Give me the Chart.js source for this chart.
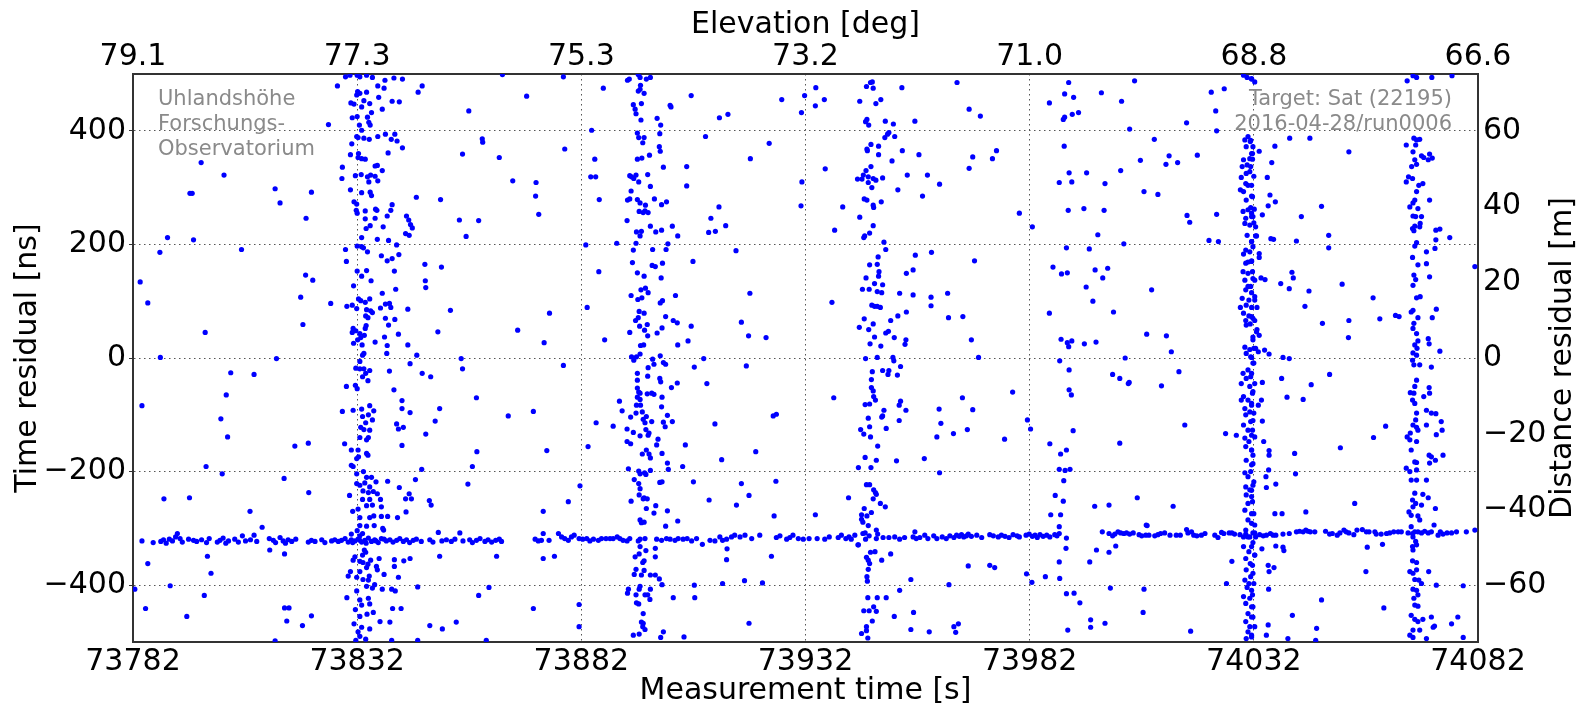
<!DOCTYPE html>
<html>
<head>
<meta charset="utf-8">
<title>Time residuals</title>
<script src="https://cdn.jsdelivr.net/npm/chart.js@4.4.1/dist/chart.umd.min.js"></script>
<style>
  html, body { margin: 0; padding: 0; background: #fff; }
  #wrap { width: 1579px; height: 707px; }
</style>
</head>
<body>
<div id="wrap"><canvas id="residualChart" width="1579" height="707"></canvas></div>
<script>
// [measurement time (s), time residual (ns)]

// range-gate returns, three gate settings
const gateA = [
  [73784.0,-322],[73786.5,-325],[73788.2,-323],[73788.8,-320],[73789.4,-326],[73790.1,-319],[73790.8,-322],[73791.5,-315],[73791.9,-309],
  [73792.5,-318],[73793.0,-324],[73794.4,-319],[73795.5,-321],[73796.2,-323],[73797.3,-320],[73798.4,-325],[73799.0,-318],
  [73800.8,-324],[73801.4,-321],[73802.1,-317],[73802.7,-326],[73803.3,-322],[73804.7,-319],[73805.5,-324],[73806.4,-313],
  [73807.1,-322],[73808.2,-320],[73809.0,-312],[73809.6,-323],[73812.4,-318],[73813.3,-321],[73813.8,-325],[73814.8,-316],
  [73815.5,-322],[73816.0,-326],[73816.6,-320],[73817.4,-323],[73818.3,-319],[73821.1,-324],[73821.8,-321],[73822.6,-323],
  [73824.1,-320],[73824.8,-325],[73826.3,-322],[73827.0,-320],[73827.8,-323],[73828.5,-321],[73829.3,-318],[73830.0,-324],
  [73830.7,-320],[73831.0,-325],[73831.5,-322],[73832.2,-319],[73832.6,-321],[73833.0,-324],[73833.7,-321],[73834.0,-326],
  [73834.5,-317],[73835.2,-323],[73835.9,-320],[73836.2,-322],[73836.7,-325],[73837.4,-318],[73838.0,-319],[73838.5,-322],
  [73839.3,-320],[73840.0,-324],[73840.8,-321],[73841.5,-318],[73842.3,-323],[73843.0,-320],[73843.7,-325],[73844.5,-321],
  [73845.2,-319],[73846.3,-323],[73848.2,-320],[73848.9,-324],[73850.1,-307],[73850.9,-322],[73851.9,-320],[73853.0,-323],
  [73853.8,-319],[73854.9,-308],[73855.6,-322],[73857.1,-320],[73857.7,-325],[73858.6,-321],[73859.4,-318],[73860.5,-323],
  [73861.2,-320],[73862.0,-324],[73862.9,-321],[73863.7,-319],[73864.2,-323]
];

const gateB = [
  [73871.7,-319],[73872.4,-322],[73873.1,-321],[73873.5,-309],[73874.8,-321],[73876.9,-309],[73877.6,-315],[73878.3,-318],
  [73879.1,-321],[73879.8,-315],[73880.4,-312],[73881.5,-318],[73882.3,-319],[73883.2,-318],[73883.9,-322],[73884.7,-319],
  [73885.8,-321],[73886.5,-318],[73887.5,-318],[73888.4,-318],[73889.1,-318],[73890.0,-315],[73890.6,-318],[73891.3,-321],
  [73892.2,-322],[73892.8,-318],[73894.7,-322],[73895.1,-319],[73896.2,-318],[73898.8,-319],[73899.9,-321],[73901.0,-318],
  [73901.8,-319],[73902.9,-321],[73903.6,-318],[73904.7,-319],[73905.6,-318],[73906.6,-322],[73907.7,-318],[73909.0,-328],
  [73910.7,-321],[73911.8,-322],[73912.9,-315],[73913.5,-321],[73914.4,-319],[73915.5,-315],[73916.2,-312],[73917.4,-315],
  [73918.5,-312],[73920.0,-318],[73921.8,-312],[73925.5,-316],[73926.3,-313],[73927.8,-319],[73928.5,-316],[73929.2,-312],
  [73930.4,-318],[73931.5,-319],[73932.8,-318],[73934.6,-318],[73936.3,-319],[73937.3,-315],[73939.3,-316],[73940.0,-312],
  [73941.0,-318],[73941.7,-315],[73942.2,-319],[73943.0,-312],[73943.7,-329],[73944.8,-309],[73945.4,-319],[73946.2,-313],
  [73947.8,-318],[73949.3,-316],[73950.6,-316],[73951.9,-315],[73953.0,-319],[73954.1,-316],[73956.0,-315],[73956.4,-306],
  [73956.7,-318],[73957.5,-316],[73958.6,-312],[73959.3,-318],[73960.6,-313],[73961.3,-318],[73962.5,-315],[73963.4,-318],
  [73964.2,-313],[73965.1,-316],[73965.7,-312],[73966.3,-314],[73966.8,-311],[73967.3,-315],[73967.9,-313],[73968.3,-310],
  [73969.0,-314],[73970.2,-312],[73971.3,-316],[73973.1,-311],[73973.9,-313],[73975.0,-315],[73975.7,-312],[73976.5,-314],
  [73977.4,-316],[73978.3,-311],[73979.2,-313],[73979.7,-315],[73981.2,-312],[73981.9,-310],[73982.6,-314],[73983.2,-312],
  [73983.7,-316],[73984.3,-311],[73985.0,-314],[73985.8,-312],[73986.5,-315],[73987.6,-311],[73988.1,-313],[73988.6,-309],
  [73990.2,-317]
];

const gateC = [
  [73998.2,-306],[73999.7,-309],[74000.5,-313],[74001.0,-310],[74001.7,-306],[74002.3,-308],[74003.0,-309],[74003.6,-308],
  [74004.3,-310],[74005.1,-308],[74006.4,-311],[74007.0,-313],[74007.9,-312],[74008.2,-295],[74008.6,-312],[74009.9,-313],
  [74010.6,-311],[74011.2,-309],[74012.1,-308],[74013.3,-312],[74014.7,-312],[74015.6,-312],[74017.0,-302],[74017.3,-308],
  [74018.1,-306],[74018.6,-312],[74019.3,-313],[74020.3,-312],[74021.1,-309],[74023.3,-312],[74024.0,-316],[74024.8,-307],
  [74025.3,-309],[74026.5,-308],[74027.1,-308],[74027.7,-310],[74028.9,-311],[74029.7,-315],[74030.2,-310],[74030.7,-315],
  [74032.2,-308],[74033.3,-311],[74034.1,-313],[74034.8,-312],[74035.7,-309],[74036.3,-312],[74036.9,-312],[74038.5,-310],
  [74039.9,-309],[74041.5,-306],[74042.2,-305],[74043.0,-306],[74043.6,-303],[74044.1,-305],[74044.6,-306],[74045.6,-306],
  [74048.0,-305],[74048.9,-310],[74049.5,-309],[74050.6,-312],[74051.2,-308],[74052.1,-303],[74052.6,-306],[74053.2,-308],
  [74054.3,-311],[74055.0,-303],[74056.2,-302],[74057.1,-306],[74057.7,-306],[74059.0,-306],[74059.3,-310],[74060.4,-310],
  [74061.6,-309],[74062.3,-308],[74063.2,-306],[74064.2,-306],[74064.9,-306],[74066.4,-308],[74067.4,-309],[74067.9,-306],
  [74068.6,-306],[74069.4,-308],[74070.1,-305],[74070.9,-308],[74071.6,-306],[74072.2,-294],[74073.1,-312],[74073.6,-306],
  [74074.2,-310],[74075.1,-308],[74076.1,-308],[74077.2,-306],[74079.4,-306],[74081.3,-303]
];

// vertical streaks of background counts
const passA = [
  [73829.4,495],[73830.4,498],[73832.0,498],[73832.6,495],[73834.1,498],[73835.4,494],[73838.2,489],[73840.2,493],
  [73842.1,491],[73827.6,479],[73836.6,479],[73838.0,475],[73846.5,479],[73845.6,468],[73832.1,469],[73832.6,466],
  [73834.1,468],[73831.9,463],[73836.8,459],[73830.6,449],[73831.3,447],[73833.5,453],[73834.8,448],[73839.8,452],
  [73841.4,451],[73833.0,442],[73835.2,432],[73837.6,438],[73830.9,423],[73832.0,425],[73834.3,424],[73834.6,415],
  [73832.5,410],[73833.0,401],[73834.9,410],[73831.9,390],[73832.2,388],[73833.5,387],[73834.7,385],[73836.6,390],
  [73838.3,394],[73839.6,385],[73840.4,394],[73840.9,382],[73842.1,370],[73830.8,377],[73832.3,360],[73838.9,361],
  [73830.5,358],[73832.2,353],[73833.0,351],[73833.8,350],[73836.5,339],[73836.0,338],[73837.6,330],[73828.7,336],
  [73828.6,316],[73831.6,321],[73832.9,323],[73834.3,319],[73835.0,322],[73836.0,320],[73836.6,312],[73834.6,310],
  [73830.5,296],[73833.0,291],[73834.9,292],[73835.2,286],[73831.3,275],[73831.9,271],[73831.8,260],[73832.0,255],
  [73833.8,259],[73836.1,262],[73836.4,260],[73839.8,270],[73839.5,260],[73838.7,250],[73836.0,246],[73833.8,245],
  [73837.8,231],[73834.0,228],[73834.9,233],[73836.5,209],[73839.0,207],[73840.8,199],[73833.0,212],[73832.0,197],
  [73833.0,196],[73833.4,194],[73829.4,191],[73834.3,187],[73837.4,180],[73838.7,171],[73839.8,175],[73841.3,182],
  [73829.6,170],[73832.0,153],[73834.1,154],[73833.0,144],[73835.1,136],[73840.3,153],[73831.2,127],[73837.6,114],
  [73840.6,121],[73830.9,93],[73829.7,91],[73832.3,104],[73832.8,101],[73833.8,98],[73834.8,104],[73831.9,87],
  [73834.1,85],[73835.0,83],[73835.4,80],[73833.9,74],[73834.4,71],[73837.2,88],[73838.3,95],[73839.2,96],
  [73839.5,89],[73838.3,70],[73840.4,68],[73839.0,58],[73834.0,57],[73831.1,52],[73830.9,45],[73831.7,48],
  [73833.8,52],[73832.6,43],[73833.6,40],[73832.8,36],[73832.1,32],[73831.2,26],[73833.1,23],[73836.0,28],
  [73838.1,37],[73841.2,42],[73838.7,22],[73838.6,8],[73843.3,23],[73845.3,5],[73833.5,8],[73833.2,5],
  [73832.6,-6],[73831.7,-18],[73832.6,-19],[73833.5,-19],[73834.8,-22],[73833.9,-27],[73833.2,-33],[73834.4,-40],
  [73831.6,-48],[73829.6,-50],[73832.0,-54],[73831.1,-92],[73828.7,-94],[73833.0,-90],[73834.8,-84],[73835.7,-93],
  [73834.5,-100],[73833.2,-103],[73835.4,-109],[73833.9,-114],[73832.8,-122],[73833.5,-126],[73834.8,-127],[73832.6,-140],
  [73834.1,-144],[73834.5,-140],[73829.2,-151],[73830.7,-162],[73832.2,-162],[73834.1,-168],[73834.4,-171],[73831.9,-177],
  [73832.3,-174],[73830.7,-189],[73831.1,-191],[73831.9,-204],[73833.4,-200],[73834.1,-210],[73835.2,-210],[73831.9,-221],
  [73832.6,-224],[73833.7,-220],[73836.2,-218],[73834.8,-227],[73833.3,-234],[73834.5,-237],[73835.6,-235],[73836.5,-239],
  [73830.3,-242],[73833.2,-249],[73834.8,-249],[73837.2,-249],[73832.2,-266],[73834.1,-260],[73835.4,-259],[73837.4,-262],
  [73831.0,-270],[73832.6,-281],[73834.8,-281],[73835.7,-278],[73837.4,-279],[73838.8,-279],[73832.6,-295],[73834.1,-296],
  [73835.8,-295],[73837.7,-300],[73837.9,-303],[73832.0,-304],[73830.7,-310],[73832.6,-313],[73833.2,-309],[73833.6,-338],
  [73833.9,-342],[73833.2,-347],[73831.5,-350],[73831.1,-356],[73832.6,-358],[73833.3,-360],[73834.4,-363],[73835.0,-356],
  [73836.9,-353],[73836.3,-367],[73836.5,-373],[73834.1,-369],[73832.6,-376],[73830.5,-376],[73830.0,-384],[73831.9,-386],
  [73833.3,-390],[73834.7,-384],[73834.5,-391],[73835.9,-399],[73834.1,-402],[73835.4,-405],[73831.9,-410],[73829.7,-422],
  [73832.6,-426],[73834.5,-423],[73834.8,-433],[73833.0,-435],[73831.6,-443],[73834.2,-451],[73835.6,-448],[73832.6,-455],
  [73831.3,-468],[73833.0,-474],[73834.8,-477],[73832.2,-482],[73832.6,-490],[73833.9,-495],[73831.7,-497]
];

const passB = [
  [73892.3,489],[73892.7,491],[73894.7,499],[73895.1,494],[73896.5,491],[73897.4,494],[73895.2,480],[73894.7,470],
  [73895.1,473],[73896.0,466],[73893.6,446],[73894.0,438],[73894.2,430],[73895.4,448],[73901.8,445],[73902.0,442],
  [73895.3,419],[73898.9,422],[73899.7,410],[73894.5,396],[73894.8,388],[73896.0,388],[73899.5,395],[73895.7,379],
  [73899.4,372],[73899.6,364],[73894.5,350],[73895.5,352],[73897.2,357],[73900.3,336],[73892.8,321],[73893.2,319],
  [73893.7,316],[73894.2,322],[73894.8,310],[73896.8,323],[73897.4,302],[73893.1,294],[73892.3,278],[73892.8,280],
  [73894.5,279],[73895.1,273],[73896.3,269],[73898.3,280],[73899.9,270],[73901.0,275],[73894.9,258],[73895.8,256],
  [73896.2,259],[73896.9,256],[73892.2,242],[73897.4,232],[73898.6,222],[73899.9,225],[73902.3,232],[73903.5,215],
  [73894.3,222],[73895.1,215],[73895.4,223],[73894.2,202],[73901.3,201],[73893.6,190],[73897.9,191],[73900.9,191],
  [73893.4,168],[73894.5,150],[73896.0,144],[73897.8,163],[73898.5,161],[73900.1,167],[73899.8,141],[73895.3,120],
  [73896.3,123],[73896.9,115],[73894.6,103],[73895.5,106],[73893.1,110],[73899.6,97],[73900.1,101],[73903.0,110],
  [73894.9,82],[73896.0,79],[73894.1,66],[73894.7,71],[73900.8,73],[73902.5,66],[73903.4,62],[73895.0,56],
  [73896.1,49],[73896.7,59],[73892.8,45],[73896.8,39],[73898.9,44],[73900.0,53],[73906.5,56],[73895.2,22],
  [73895.9,23],[73893.2,2],[73895.1,7],[73899.6,4],[73897.9,-2],[73903.5,23],[73905.8,30],
  [73893.7,-4],[73894.3,2],[73898.2,-11],[73900.3,-8],[73900.8,-11],[73896.9,-17],[73894.5,-27],[73894.5,-39],
  [73896.8,-32],[73899.5,-36],[73899.7,-42],[73894.5,-53],[73894.8,-60],[73895.1,-62],[73902.1,-52],[73903.4,-44],
  [73894.5,-69],[73895.1,-73],[73894.3,-83],[73895.2,-83],[73896.7,-63],[73897.7,-62],[73898.2,-64],[73900.0,-69],
  [73899.9,-86],[73890.5,-76],[73891.1,-93],[73894.2,-97],[73895.6,-95],[73896.5,-103],[73893.0,-104],[73895.8,-108],
  [73896.2,-114],[73897.7,-112],[73900.3,-113],[73900.7,-121],[73901.2,-101],[73902.3,-112],[73889.1,-120],[73892.2,-125],
  [73893.6,-131],[73895.1,-137],[73896.9,-136],[73897.1,-132],[73896.4,-126],[73899.1,-143],[73898.8,-153],[73892.2,-147],
  [73893.0,-151],[73895.6,-169],[73896.5,-162],[73897.1,-169],[73897.4,-176],[73900.0,-168],[73901.2,-185],[73901.4,-196],
  [73892.5,-195],[73894.8,-199],[73895.1,-204],[73896.1,-202],[73896.4,-205],[73897.4,-198],[73893.8,-214],[73894.8,-221],
  [73899.5,-219],[73900.0,-218],[73895.1,-230],[73894.9,-241],[73896.0,-246],[73896.7,-248],[73895.8,-248],[73893.1,-252],
  [73898.6,-260],[73896.5,-265],[73898.2,-273],[73901.2,-269],[73895.1,-285],[73895.4,-290],[73896.0,-289],[73900.8,-296],
  [73903.5,-287],[73895.1,-332],[73896.4,-339],[73898.5,-335],[73894.0,-350],[73894.9,-345],[73898.5,-350],[73896.0,-357],
  [73895.7,-360],[73894.2,-372],[73893.8,-381],[73896.0,-374],[73895.4,-382],[73897.4,-382],[73898.5,-382],[73899.4,-389],
  [73900.0,-399],[73892.5,-407],[73892.3,-414],[73895.1,-402],[73894.9,-407],[73896.2,-417],[73896.8,-417],[73897.4,-407],
  [73897.3,-425],[73894.2,-417],[73894.3,-431],[73894.8,-433],[73895.8,-450],[73895.4,-465],[73895.8,-467],[73895.7,-473],
  [73896.2,-478],[73893.6,-488],[73894.9,-486],[73900.3,-482],[73899.7,-492],[73904.9,-491],[73902.5,-422],[73907.2,-400],
  [73907.3,-422],[73907.0,-218]
];

const passC = [
  [73945.6,478],[73946.5,485],[73946.9,486],[73947.1,475],[73948.8,455],[73947.7,448],[73944.1,452],[73953.5,476],
  [73945.4,416],[73945.7,420],[73946.1,410],[73949.8,417],[73951.6,412],[73956.4,417],[73950.6,397],[73950.3,394],
  [73949.7,388],[73951.9,390],[73946.6,376],[73948.3,373],[73945.7,368],[73945.8,365],[73948.3,358],[73953.6,365],
  [73957.3,358],[73951.3,347],[73945.5,330],[73946.6,337],[73944.9,322],[73943.6,315],[73944.6,315],[73946.0,319],
  [73947.1,316],[73947.7,313],[73949.2,317],[73946.0,309],[73946.8,300],[73954.7,322],[73959.2,322],[73961.9,306],
  [73952.6,296],[73958.1,285],[73945.1,280],[73945.7,278],[73948.9,275],[73947.1,269],[73947.2,265],[73944.1,248],
  [73947.1,233],[73946.3,220],[73945.2,215],[73945.0,212],[73949.5,204],[73949.9,191],[73948.2,178],[73946.3,164],
  [73948.0,165],[73948.4,152],[73948.3,144],[73954.5,149],[73956.0,155],[73956.5,181],[73960.1,186],[73945.5,141],
  [73949.2,129],[73947.4,131],[73944.7,121],[73946.2,121],[73948.0,117],[73949.0,115],[73953.0,114],[73956.0,111],
  [73960.0,107],[73960.0,92],[73946.8,93],[73947.4,91],[73948.0,91],[73948.7,89],[73952.6,74],[73954.5,81],
  [73951.0,66],[73945.1,69],[73947.1,60],[73944.0,54],[73946.1,50],[73949.9,44],[73950.5,47],[73947.4,37],
  [73951.8,36],[73954.4,32],[73954.2,24],[73946.4,25],[73948.8,21],[73963.7,114],[73963.9,71],[73945.4,-1],
  [73948.0,1],[73951.5,1],
  [73951.7,-5],[73953.2,-15],[73949.2,-22],[73950.6,-22],[73950.4,-29],[73952.5,-30],[73946.9,-24],[73946.7,-38],
  [73946.7,-52],[73947.1,-58],[73947.2,-68],[73947.6,-74],[73945.3,-82],[73946.3,-81],[73949.5,-92],[73949.2,-102],
  [73949.0,-104],[73953.2,-76],[73952.9,-83],[73954.4,-92],[73946.0,-106],[73950.0,-124],[73946.3,-121],[73944.3,-126],
  [73945.0,-134],[73946.5,-139],[73952.9,-110],[73948.1,-155],[73945.3,-175],[73947.8,-180],[73946.6,-193],[73943.8,-193],
  [73952.3,-181],[73958.5,-177],[73961.8,-90],[73962.2,-115],[73961.3,-139],[73961.9,-202],[73945.6,-223],[73946.3,-223],
  [73947.2,-232],[73947.6,-237],[73947.8,-240],[73947.1,-248],[73941.6,-246],[73948.7,-256],[73949.8,-262],[73945.1,-265],
  [73946.7,-272],[73945.7,-278],[73944.5,-276],[73944.5,-284],[73944.8,-289],[73946.0,-295],[73947.8,-303],[73945.3,-308],
  [73948.1,-310],[73943.8,-329],[73946.5,-342],[73947.5,-341],[73949.0,-356],[73945.6,-351],[73946.0,-356],[73946.3,-362],
  [73946.0,-372],[73945.7,-385],[73945.8,-393],[73951.0,-345],[73955.5,-390],[73953.0,-409],[73945.9,-422],[73948.0,-422],
  [73950.0,-422],[73945.0,-445],[73946.2,-445],[73947.2,-438],[73947.8,-446],[73946.9,-463],[73951.8,-455],[73956.1,-448],
  [73945.6,-473],[73945.6,-480],[73944.5,-485],[73945.9,-493],[73955.5,-478],[73959.6,-482],[73964.0,-399]
];

const passD = [
  [73986.4,449],[73989.8,465],[73990.7,485],[73991.8,459],[73989.5,420],[73989.8,424],[73991.5,429],[73992.9,432],
  [73989.7,373],[73990.8,326],[73988.6,309],[73991.4,310],[73990.6,260],[73990.2,194],[73987.2,160],[73989.1,148],
  [73990.4,150],[73986.4,79],[73989.0,33],[73990.4,27],[73990.7,20],[73991.4,30],[73988.7,-5],[73990.8,-21],
  [73990.8,-56],[73991.3,-65],[73991.7,-128],[73986.5,-151],[73988.9,-169],[73990.2,-162],[73988.6,-196],[73989.9,-198],
  [73991.0,-196],[73989.6,-216],[73987.7,-242],[73989.5,-252],[73986.7,-276],[73988.9,-276],[73988.6,-297],[73990.1,-335],
  [73988.6,-359],[73988.7,-388],[73985.5,-385],[73990.2,-415],[73991.9,-414],[73993.2,-431],[73990.5,-479]
];

const passE = [
  [74029.7,498],[74030.5,494],[74031.5,492],[74030.7,390],[74030.0,384],[74031.2,381],[74030.3,372],[74031.7,360],
  [74031.1,351],[74029.7,349],[74030.5,340],[74029.4,337],[74031.1,328],[74030.3,325],[74029.2,318],[74030.2,307],
  [74030.7,304],[74029.0,296],[74029.7,293],[74031.5,285],[74030.3,278],[74029.6,258],[74030.7,261],[74031.5,255],
  [74030.2,246],[74031.8,249],[74030.0,237],[74031.1,234],[74030.5,216],[74032.4,215],[74031.5,205],[74030.2,190],
  [74031.1,187],[74029.7,183],[74030.7,169],[74030.2,167],[74031.5,171],[74029.6,152],[74030.7,149],[74031.8,140],
  [74030.0,137],[74030.7,126],[74030.2,120],[74031.5,115],[74029.4,105],[74030.9,102],[74032.2,102],[74029.0,89],
  [74030.3,93],[74031.5,89],[74029.7,79],[74030.9,74],[74031.8,70],[74030.2,66],[74031.2,60],[74030.3,58],
  [74032.6,46],[74031.8,32],[74030.0,19],[74031.1,15],[74030.3,8],[74031.5,1],
  [74031.8,-9],[74030.7,-21],[74029.6,-27],[74031.5,-27],[74030.3,-36],[74029.2,-45],[74031.1,-50],[74031.8,-59],
  [74029.7,-68],[74030.7,-74],[74029.2,-74],[74031.5,-83],[74030.0,-89],[74031.1,-95],[74030.2,-100],[74031.8,-110],
  [74029.7,-118],[74030.7,-127],[74031.5,-136],[74030.0,-141],[74030.9,-147],[74030.2,-156],[74031.5,-162],[74031.8,-171],
  [74030.3,-180],[74031.5,-188],[74030.0,-202],[74030.7,-209],[74031.8,-224],[74030.2,-227],[74031.1,-232],[74030.3,-241],
  [74031.5,-244],[74030.7,-256],[74030.0,-268],[74031.5,-274],[74030.7,-285],[74032.2,-294],[74030.2,-303],[74031.1,-315],
  [74031.8,-325],[74029.7,-332],[74030.9,-341],[74032.2,-347],[74030.2,-353],[74031.2,-362],[74030.3,-373],[74031.8,-379],
  [74030.0,-391],[74030.9,-397],[74030.5,-404],[74031.5,-409],[74029.7,-420],[74031.1,-423],[74030.2,-432],[74031.8,-438],
  [74030.7,-450],[74031.5,-456],[74030.2,-464],[74031.1,-473],[74030.7,-482],[74031.5,-488],[74030.3,-494],
  [74031.5,491],[74032.2,486],[74031.3,383],[74031.8,372],[74031.5,360],[74031.7,350],[74031.3,337],[74032.0,320],
  [74031.5,304],[74031.7,284],[74031.3,265],[74032.1,262],[74031.5,249],[74032.0,238],[74032.4,231],[74032.6,215],
  [74031.5,205],[74031.8,196],[74031.5,170],[74031.7,152],[74032.2,137],[74031.3,126],[74032.2,108],[74032.7,89],
  [74031.5,73],[74032.2,66],[74032.7,50],[74033.2,40],[74031.8,37],[74032.0,17],[74032.4,17],[74031.3,2],
  [74032.0,-9],[74031.3,-33],[74032.2,-45],[74031.7,-62],[74031.5,-80],[74032.0,-97],[74031.3,-112],[74031.7,-127],
  [74032.2,-139],[74031.5,-162],[74031.8,-186],[74031.3,-200],[74032.0,-218],[74031.5,-233],[74031.7,-253],[74032.0,-274],
  [74031.5,-291],[74031.8,-308],[74032.4,-315],[74031.5,-332],[74032.2,-347],[74031.7,-365],[74031.3,-385],[74032.0,-397],
  [74031.7,-417],[74031.5,-438],[74031.8,-456],[74032.2,-473],[74031.5,-491]
];

const passF = [
  [74066.2,488],[74067.5,497],[74068.3,494],[74066.0,375],[74067.7,387],[74068.3,384],[74069.0,385],[74068.1,375],
  [74067.5,363],[74069.4,356],[74069.9,353],[74067.9,349],[74068.3,341],[74067.2,337],[74066.0,310],[74066.5,319],
  [74067.4,316],[74068.8,304],[74069.7,307],[74068.3,293],[74067.9,278],[74066.8,266],[74067.5,273],[74068.6,263],
  [74067.5,250],[74068.1,249],[74069.4,249],[74067.4,228],[74067.9,232],[74069.0,231],[74067.7,224],[74068.3,203],
  [74067.9,197],[74067.4,177],[74068.6,164],[74067.7,146],[74068.1,138],[74067.5,128],[74068.3,106],[74069.1,108],
  [74067.5,84],[74067.1,81],[74068.6,71],[74067.7,61],[74067.5,52],[74068.3,43],[74068.6,30],[74067.9,23],
  [74068.4,17],[74067.5,9],[74068.3,5],[74069.1,237],[74070.5,187],[74072.4,193],
  [74067.4,-4],[74067.7,-12],[74069.0,-12],[74068.3,-39],[74067.9,-50],[74066.9,-61],[74067.7,-62],[74067.4,-74],
  [74067.9,-80],[74068.3,-97],[74068.1,-109],[74067.5,-118],[74068.3,-122],[74068.6,-127],[74066.9,-132],[74066.2,-139],
  [74066.8,-144],[74068.3,-147],[74067.1,-162],[74067.9,-183],[74068.3,-184],[74066.0,-194],[74066.8,-200],[74068.3,-197],
  [74067.1,-215],[74068.3,-215],[74067.9,-238],[74067.4,-250],[74068.1,-256],[74067.5,-262],[74066.6,-271],[74067.1,-277],
  [74068.6,-278],[74069.0,-285],[74067.1,-297],[74067.5,-315],[74068.1,-323],[74067.4,-332],[74068.3,-329],[74067.5,-338],
  [74067.4,-357],[74068.3,-360],[74066.8,-376],[74067.5,-379],[74068.3,-373],[74067.9,-390],[74068.8,-391],[74069.4,-397],
  [74067.5,-407],[74068.3,-409],[74068.6,-417],[74067.7,-423],[74067.9,-435],[74068.6,-437],[74067.1,-453],[74067.9,-460],
  [74068.6,-464],[74067.5,-479],[74069.0,-479],[74066.8,-488],[74067.5,-492]
];

// isolated background counts
const scatterWest = [
  [73797.2,344],[73802.3,322],[73794.7,290],[73795.2,290],[73813.7,298],[73814.8,273],[73821.8,292],[73820.6,246],
  [73825.6,411],[73789.7,212],[73795.5,208],[73788.0,186],[73806.2,191],[73783.6,134],[73785.3,97],[73798.1,45],
  [73819.4,107],[73819.9,59],[73820.5,146],[73822.1,137],[73826.1,96],[73788.1,1],[73814.0,-1],
  [73843.0,250],[73843.5,243],[73843.9,235],[73844.3,229],[73842.8,219],[73843.6,216],[73847.1,165],[73850.8,160],
  [73847.2,136],[73847.3,124],[73843.3,86],[73852.8,84],[73850.0,46],[73854.8,243],[73859.1,242],[73856.3,214],
  [73855.5,359],[73859.9,386],[73860.0,380],[73856.9,435],[73863.7,353],[73864.4,499],[73869.8,461],[73866.7,312],
  [73871.9,309],[73871.8,285],[73872.5,253],[73867.8,49],[73855.2,-1],[73845.2,283],[73850.6,279],
  [73803.8,-26],[73809.0,-29],[73784.0,-84],[73802.8,-65],[73801.6,-107],[73803.1,-139],[73818.1,-155],[73821.1,-150],
  [73798.3,-191],[73801.9,-204],[73815.7,-212],[73821.2,-237],[73788.9,-248],[73794.6,-246],[73808.1,-270],[73810.8,-298],
  [73785.3,-362],[73798.6,-349],[73799.4,-379],[73790.3,-401],[73797.9,-418],[73784.8,-441],[73794.0,-455],[73815.8,-440],
  [73816.8,-440],[73816.3,-463],[73819.8,-471],[73821.8,-454],[73812.5,-338],[73815.8,-345],[73813.7,-498],[73782.4,-407],
  [73865.7,-102],[73871.3,-94],[73858.7,-165],[73857.7,-191],[73858.6,-70],[73856.7,-222],[73855.5,-19],[73859.1,-418],
  [73861.4,-404],[73863.1,-349],[73854.1,-465],[73860.8,-497],[73851.0,-477],[73848.2,-471],[73845.5,-497],[73850.4,-89],
  [73849.4,-111],[73847.3,-134],[73846.4,-196],[73845.0,-214],[73848.1,-251],[73848.5,-259],[73850.4,-349],[73845.5,-403],
  [73843.8,-10],[73846.5,-27],[73848.4,-33],[73839.2,-23],[73840.2,-56],[73842.0,-75],[73842.0,-89],[73843.8,-96],
  [73840.8,-116],[73841.2,-125],[73842.3,-122],[73842.0,-154],[73838.8,-217],[73841.4,-228],[73843.6,-239],[73842.8,-248],
  [73844.1,-248],[73842.9,-271],[73841.0,-281],[73843.8,-353],[73842.4,-357],[73840.3,-355],[73840.3,-367],[73841.2,-386],
  [73838.0,-381],[73837.6,-407],[73839.7,-407],[73840.5,-410],[73841.8,-441],[73839.9,-441],[73839.3,-465],[73837.1,-464],
  [73839.7,-497],[73871.3,-441]
];

const scatterMid = [
  [73878.0,495],[73886.9,475],[73878.3,368],[73884.3,401],[73885.0,350],[73884.1,319],[73885.2,319],[73886.0,279],
  [73883.0,199],[73889.9,202],[73885.9,152],[73883.3,89],[73874.9,79],[73873.7,27],[73887.2,32],
  [73906.5,462],[73905.5,337],[73905.5,303],[73909.7,390],[73912.8,423],[73914.7,429],[73919.7,351],[73923.9,378],
  [73926.7,455],[73931.1,432],[73931.8,462],[73931.2,310],[73931.0,268],[73912.7,266],[73910.9,246],[73910.4,221],
  [73911.9,223],[73914.2,233],[73906.9,170],[73916.5,189],[73919.6,114],[73917.7,63],[73919.3,39],[73923.2,36],
  [73909.3,-1],[73934.3,476],[73936.2,455],[73934.2,444],[73936.4,333],[73937.9,98],[73940.3,266],[73938.5,225],
  [73874.3,-163],[73878.0,-13],[73879.1,-253],[73873.5,-270],[73873.5,-353],[73876.0,-349],[73881.7,-225],[73883.5,-156],
  [73885.3,-114],[73881.5,-434],[73881.5,-473],[73904.6,-191],[73905.2,-153],[73907.2,-16],[73910.0,-45],[73911.8,-116],
  [73913.3,-179],[73918.8,-14],[73920.9,-165],[73924.8,-102],[73925.5,-99],[73910.5,-250],[73916.6,-259],[73917.7,-221],
  [73919.4,-242],[73925.4,-217],[73925.0,-278],[73914.5,-336],[73914.4,-355],[73924.4,-349],[73913.5,-397],[73918.4,-392],
  [73922.4,-396],[73919.4,-467],[73938.3,-70],[73934.2,-276],
  [73965.8,485],[73968.5,438],[73971.0,426],[73969.3,354],[73968.5,334],[73973.7,351],[73974.6,365],[73979.7,255],
  [73982.6,231],[73969.7,171],[73967.1,73],[73969.0,32],[73970.6,1],[73998.0,467],[74002.5,452],[74005.4,488],
  [74004.3,403],[73994.7,326],[73998.8,307],[74002.3,330],[74006.7,348],[74009.8,385],[74013.1,356],[74012.4,341],
  [74015.0,344],[74019.4,357],[74007.5,293],[74010.6,288],[74017.0,414],[74022.5,468],[74025.4,474],[74023.5,435],
  [74023.7,400],[73994.1,263],[73998.6,260],[73997.2,217],[74003.0,201],[73995.3,192],[74017.1,251],[74017.7,239],
  [74023.7,253],[74022.0,207],[74024.1,205],[73996.6,155],[73999.4,158],[73998.3,141],[73994.6,125],[73996.1,100],
  [74000.7,81],[74009.2,120],[73994.2,25],[73996.8,28],[74008.1,42],[74012.5,39],[74013.6,11],[74003.3,0],
  [73965.0,-133],[73967.0,-70],[73968.1,-126],[73969.3,-91],[73976.4,-143],[73978.2,-60],[73965.1,-473],[73966.1,-468],
  [73965.5,-483],[73968.3,-366],[73973.1,-365],[73974.2,-369],[73981.5,-109],[73982.2,-125],[73981.3,-380],[73982.5,-395],
  [73995.4,-359],[73996.9,-338],[73999.7,-342],[74001.2,-331],[73996.5,-261],[73999.7,-259],[74006.0,-246],[74008.0,-294],
  [74014.0,-261],[74000.0,-405],[74007.5,-407],[74007.3,-448],[73995.6,-461],[73995.6,-474],[73998.8,-467],[74017.9,-481],
  [74027.1,-358],[74025.9,-397],[74000.5,-29],[74002.1,-36],[74004.0,-45],[74004.2,-43],[74011.4,-49],[74015.3,-24],
  [74016.6,-118],[74002.1,-150],[74025.7,-133],[74028.1,-136]
];

const scatterEast = [
  [74033.2,364],[74036.7,373],[74040.0,387],[74044.5,387],[74036.0,344],[74035.0,318],[74035.6,287],[74035.2,268],
  [74036.8,275],[74033.9,252],[74035.8,210],[74036.4,209],[74041.5,206],[74042.6,249],[74047.1,267],[74053.2,363],
  [74048.7,216],[74048.7,194],[74033.2,184],[74033.2,177],[74033.6,141],[74034.5,138],[74038.0,131],[74039.9,122],
  [74040.5,151],[74040.8,141],[74044.3,118],[74043.4,91],[74051.7,130],[74058.6,106],[74047.3,61],[74053.2,66],
  [74053.1,36],[74060.1,69],[74063.6,75],[74064.4,73],[74071.8,71],[74072.7,86],[74073.5,12],[74070.9,34],
  [74071.1,25],[74070.5,166],[74071.2,143],[74071.2,278],[74072.6,225],[74073.5,227],[74075.7,212],[74072.6,208],
  [74071.2,359],[74071.8,352],[74070.9,349],[74071.7,494],[74076.2,497],[74081.3,161],[74039.9,-1],[74038.5,1],
  [74035.4,7],[74034.4,14],[74033.0,11],
  [74033.9,-43],[74038.2,-36],[74039.4,-69],[74044.8,-47],[74043.0,-73],[74048.9,-29],[74041.1,-168],[74041.3,-204],
  [74051.3,-158],[74058.7,-140],[74061.4,-120],[74054.5,-256],[74043.6,-271],[74036.7,-274],[74038.3,-274],[74034.7,-209],
  [74035.3,-197],[74034.8,-228],[74036.9,-222],[74034.2,-147],[74035.4,-163],[74035.4,-171],[74033.9,-111],[74033.0,-83],
  [74033.7,-74],[74036.9,-331],[74038.5,-333],[74038.7,-339],[74033.8,-336],[74035.2,-365],[74035.4,-376],[74036.5,-369],
  [74035.3,-407],[74047.1,-426],[74040.6,-453],[74035.2,-470],[74034.8,-488],[74039.6,-494],[74046.0,-476],[74045.8,-497],
  [74057.3,-333],[74060.7,-328],[74057.0,-376],[74061.0,-440],[74070.5,-92],[74071.6,-97],[74070.5,-118],[74073.8,-112],
  [74074.0,-127],[74072.6,-98],[74071.1,-52],[74071.2,-62],[74069.9,-68],[74071.6,-16],[74072.7,-135],[74071.1,-171],
  [74071.6,-174],[74074.2,-171],[74071.2,-185],[74072.5,-180],[74070.5,-215],[74072.5,-265],[74069.4,-259],[74069.7,-240],
  [74070.9,-246],[74071.0,-376],[74072.7,-400],[74078.7,-401],[74071.6,-456],[74072.0,-474],[74072.3,-472],[74076.1,-468],
  [74077.5,-456],[74078.7,-492],[74070.5,-494],[74069.7,-460]
];

// axes
const timeTicks = [73782, 73832, 73882, 73932, 73982, 74032, 74082];
const elevationLabels = ['79.1', '77.3', '75.3', '73.2', '71.0', '68.8', '66.6'];
const residualTicks = [-400, -200, 0, 200, 400];
const distanceTicks = [-60, -40, -20, 0, 20, 40, 60];

const stationLines = ['Uhlandshöhe', 'Forschungs-', 'Observatorium'];
const targetLines = ['Target: Sat (22195)', '2016-04-28/run0006'];
const distanceTitle = 'Distance residual [m]';

const FONT = '"DejaVu Sans", "Bitstream Vera Sans", sans-serif';
Chart.defaults.font.family = FONT;
Chart.defaults.color = '#000';

const minus = v => (v < 0 ? '\u2212' + Math.abs(v) : String(v));
const fixTicks = values => scale => { scale.ticks = values.map(v => ({ value: v })); };

const points = [...gateA, ...gateB, ...gateC, ...passA, ...passB, ...passC, ...passD, ...passE, ...passF,
  ...scatterWest, ...scatterMid, ...scatterEast].map(([x, y]) => ({ x, y }));

const frame = { color: '#333', width: 2 };
const dash = [1.5, 3.5];

const annotations = {
  id: 'annotations',
  afterDraw(chart) {
    const { ctx, chartArea: a } = chart;
    ctx.save();
    ctx.font = '21px ' + FONT;
    ctx.fillStyle = '#8a8a8a';
    ctx.textBaseline = 'alphabetic';
    ctx.textAlign = 'left';
    stationLines.forEach((line, i) => ctx.fillText(line, a.left + 25, a.top + 31 + i * 25));
    ctx.textAlign = 'right';
    targetLines.forEach((line, i) => ctx.fillText(line, a.right - 26, a.top + 31 + i * 25));

    // right axis title, rotated like the left one
    ctx.font = '30px ' + FONT;
    ctx.fillStyle = '#000';
    ctx.textAlign = 'center';
    ctx.textBaseline = 'middle';
    ctx.translate(chart.width - 16, (a.top + a.bottom) / 2);
    ctx.rotate(-Math.PI / 2);
    ctx.fillText(distanceTitle, 0, 0);
    ctx.restore();
  }
};

new Chart(document.getElementById('residualChart'), {
  type: 'scatter',
  data: {
    datasets: [{
      data: points,
      backgroundColor: '#0000ff',
      borderWidth: 0,
      pointRadius: 2.6,
      pointHoverRadius: 2.6
    }]
  },
  options: {
    responsive: false,
    animation: false,
    devicePixelRatio: 1,
    layout: { padding: 0 },
    plugins: { legend: { display: false }, tooltip: { enabled: false } },
    scales: {
      x: {
        type: 'linear', position: 'bottom', min: 73782, max: 74082,
        afterBuildTicks: fixTicks(timeTicks),
        afterFit: s => { s.height = 65; },
        ticks: { font: { size: 30, lineHeight: 1 }, padding: 5, maxRotation: 0, autoSkip: false, callback: v => String(v) },
        grid: { color: '#555', lineWidth: 1, drawTicks: false },
        border: { color: frame.color, width: frame.width, dash: dash },
        title: { display: true, text: 'Measurement time [s]', font: { size: 30, lineHeight: 1 }, padding: { top: 0, bottom: 1 } }
      },
      x2: {
        type: 'linear', position: 'top', min: 73782, max: 74082,
        afterBuildTicks: fixTicks(timeTicks),
        afterFit: s => { s.height = 74; },
        ticks: { font: { size: 30, lineHeight: 1 }, padding: 2, maxRotation: 0, autoSkip: false, callback: (v, i) => elevationLabels[i] },
        grid: { drawOnChartArea: false, drawTicks: false },
        border: { color: frame.color, width: frame.width },
        title: { display: true, text: 'Elevation [deg]', font: { size: 30, lineHeight: 1 }, padding: { top: 10, bottom: 0 } }
      },
      y: {
        type: 'linear', position: 'left', min: -500, max: 500,
        afterBuildTicks: fixTicks(residualTicks),
        afterFit: s => { s.width = 133; },
        ticks: { font: { size: 30 }, padding: 3, callback: v => minus(v) },
        grid: { color: '#555', lineWidth: 1, drawTicks: true, tickLength: 4, tickColor: '#333', tickBorderDash: [] },
        border: { color: frame.color, width: frame.width, dash: dash },
        title: { display: true, text: 'Time residual [ns]', font: { size: 30, lineHeight: 1 }, padding: { top: 13, bottom: 0 } }
      },
      y2: {
        type: 'linear', position: 'right', min: -75, max: 75,
        afterBuildTicks: fixTicks(distanceTicks),
        afterFit: s => { s.width = 101; },
        ticks: { font: { size: 30 }, padding: 5, callback: v => minus(v) },
        grid: { drawOnChartArea: false, drawTicks: false },
        border: { color: frame.color, width: frame.width }
      }
    }
  },
  plugins: [annotations]
});
</script>
</body>
</html>
